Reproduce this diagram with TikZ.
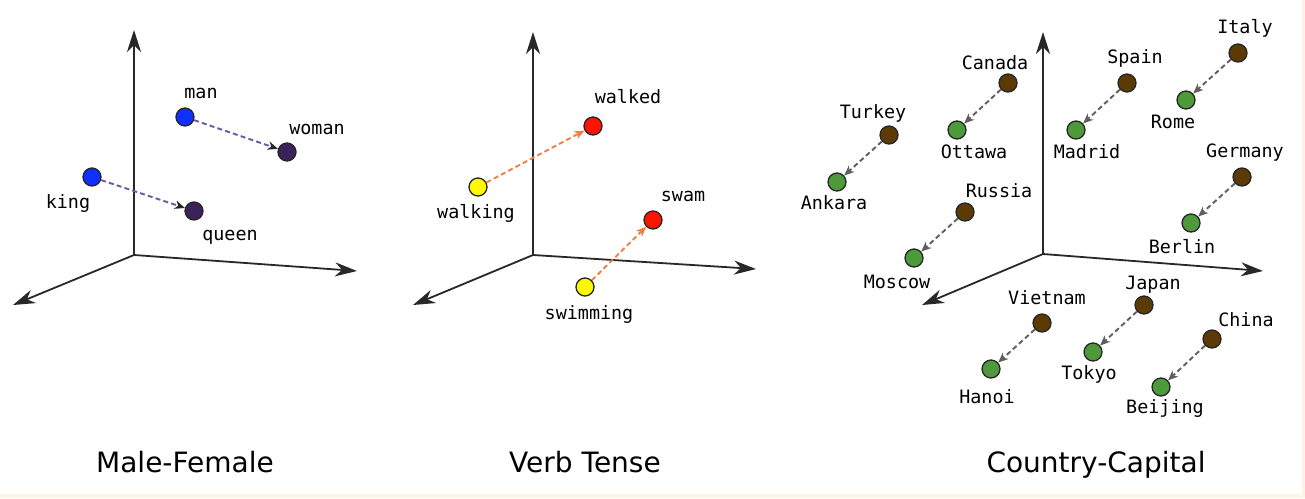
\documentclass[tikz,border=0pt]{standalone}
\usepackage{fontspec}
\setmainfont{DejaVu Sans}
\newfontfamily\labfont{DejaVu Sans Mono}
\usetikzlibrary{arrows.meta}
\definecolor{beige}{RGB}{252,243,226}
\definecolor{cblue}{RGB}{16,48,255}
\definecolor{cpurple}{RGB}{59,34,88}
\definecolor{cpline}{RGB}{110,88,160}
\definecolor{cyellow}{RGB}{255,250,0}
\definecolor{cred}{RGB}{255,20,0}
\definecolor{corange}{RGB}{240,128,64}
\definecolor{cbrown}{RGB}{92,58,4}
\definecolor{cgreen}{RGB}{78,154,58}
\definecolor{cgray}{RGB}{95,95,95}
\definecolor{caxis}{RGB}{40,40,40}
\tikzset{
  axis/.style={draw=caxis, line width=0.9pt, -{Stealth[length=11pt,width=7pt,inset=3.5pt]}},
  dot/.style={circle, draw=black!85, line width=0.65pt, minimum size=9pt, inner sep=0pt},
  lab/.style={font=\labfont\fontsize{9.2}{10}\selectfont, inner sep=0pt, text height=6.5pt, text depth=0pt, anchor=center},
  title/.style={font=\fontsize{14}{16}\selectfont, inner sep=0pt, anchor=base},
  vecarrow/.style={dashed, dash pattern=on 2.5pt off 1.6pt, line width=0.95pt},
  mf/.style={vecarrow, draw=cpline, -{Stealth[length=5pt,width=4.2pt,inset=1.5pt,color=black!85]}},
  vt/.style={vecarrow, draw=corange, -{Stealth[length=5pt,width=4.2pt,inset=1.5pt]}},
  cc/.style={vecarrow, draw=cgray, -{Stealth[length=5pt,width=4.2pt,inset=1.5pt]}},
}
\begin{document}
\begin{tikzpicture}[x=0.5pt,y=-0.5pt]
\useasboundingbox (0,0) rectangle (1305,498);
\fill[beige] (0,0) rectangle (1305,498);
\fill[white] (0,0) rectangle (1302,494);

% ---------- Panel 1: Male-Female ----------
\coordinate (o1) at (134,255);
\coordinate (u1) at (134,30);
\coordinate (r1) at (357,271);
\coordinate (l1) at (13,305);
\draw[axis] (o1) -- (u1);
\draw[axis] (o1) -- (r1);
\draw[axis] (o1) -- (l1);
\node[dot, fill=cblue] (man) at (185,117) {};
\node[dot, fill=cpurple] (woman) at (287,152) {};
\node[dot, fill=cblue] (king) at (92,177) {};
\node[dot, fill=cpurple] (queen) at (194,211) {};
\draw[mf] (man) -- (woman);
\draw[mf] (king) -- (queen);
\node[lab] (lman) at (201,92) {man};
\node[lab] (lwoman) at (317,128) {woman};
\node[lab] (lking) at (68,202) {king};
\node[lab] (lqueen) at (230,234) {queen};
\node[title] (t1) at (185,472) {Male-Female};

% ---------- Panel 2: Verb Tense ----------
\coordinate (o2) at (533,255);
\coordinate (u2) at (533,32);
\coordinate (r2) at (756,269);
\coordinate (l2) at (413,305);
\draw[axis] (o2) -- (u2);
\draw[axis] (o2) -- (r2);
\draw[axis] (o2) -- (l2);
\node[dot, fill=cred] (walked) at (593,126) {};
\node[dot, fill=cyellow] (walking) at (478,187) {};
\node[dot, fill=cred] (swam) at (653,220) {};
\node[dot, fill=cyellow] (swimming) at (585,287) {};
\draw[vt] (walking) -- (walked);
\draw[vt] (swimming) -- (swam);
\node[lab] (lwalked) at (628,97) {walked};
\node[lab] (lwalking) at (476,212) {walking};
\node[lab] (lswam) at (683,195) {swam};
\node[lab] (lswimming) at (589,313) {swimming};
\node[title] (t2) at (585,472) {Verb Tense};

% ---------- Panel 3: Country-Capital ----------
\coordinate (o3) at (1043,254);
\coordinate (u3) at (1043,32);
\coordinate (r3) at (1263,271);
\coordinate (l3) at (922,305);
\draw[axis] (o3) -- (u3);
\draw[axis] (o3) -- (r3);
\draw[axis] (o3) -- (l3);
% countries
\node[dot, fill=cbrown] (italy) at (1238,53) {};
\node[dot, fill=cbrown] (spain) at (1127,83) {};
\node[dot, fill=cbrown] (canada) at (1008,83) {};
\node[dot, fill=cbrown] (turkey) at (889,135) {};
\node[dot, fill=cbrown] (germany) at (1242,177) {};
\node[dot, fill=cbrown] (russia) at (965,212) {};
\node[dot, fill=cbrown] (japan) at (1144,305) {};
\node[dot, fill=cbrown] (vietnam) at (1042,323) {};
\node[dot, fill=cbrown] (china) at (1212,339) {};
% capitals
\node[dot, fill=cgreen] (rome) at (1186,100) {};
\node[dot, fill=cgreen] (madrid) at (1076,130) {};
\node[dot, fill=cgreen] (ottawa) at (957,130) {};
\node[dot, fill=cgreen] (ankara) at (837,182) {};
\node[dot, fill=cgreen] (berlin) at (1191,223) {};
\node[dot, fill=cgreen] (moscow) at (914,258) {};
\node[dot, fill=cgreen] (tokyo) at (1093,352) {};
\node[dot, fill=cgreen] (hanoi) at (991,369) {};
\node[dot, fill=cgreen] (beijing) at (1161,387) {};
\draw[cc] (italy) -- (rome);
\draw[cc] (spain) -- (madrid);
\draw[cc] (canada) -- (ottawa);
\draw[cc] (turkey) -- (ankara);
\draw[cc] (germany) -- (berlin);
\draw[cc] (russia) -- (moscow);
\draw[cc] (japan) -- (tokyo);
\draw[cc] (vietnam) -- (hanoi);
\draw[cc] (china) -- (beijing);
\node[lab] (litaly) at (1245,27) {Italy};
\node[lab] (lspain) at (1135,57) {Spain};
\node[lab] (lcanada) at (995,63) {Canada};
\node[lab] (lturkey) at (873,112) {Turkey};
\node[lab] (lgermany) at (1245,151) {Germany};
\node[lab] (lrussia) at (999,191) {Russia};
\node[lab] (ljapan) at (1153,283) {Japan};
\node[lab] (lvietnam) at (1047,298) {Vietnam};
\node[lab] (lchina) at (1246,320) {China};
\node[lab] (lrome) at (1173,122) {Rome};
\node[lab] (lmadrid) at (1087,152) {Madrid};
\node[lab] (lottawa) at (974,152) {Ottawa};
\node[lab] (lankara) at (834,203) {Ankara};
\node[lab] (lberlin) at (1182,247) {Berlin};
\node[lab] (lmoscow) at (897,282) {Moscow};
\node[lab] (ltokyo) at (1089,373) {Tokyo};
\node[lab] (lhanoi) at (987,397) {Hanoi};
\node[lab] (lbeijing) at (1165,407) {Beijing};
\node[title] (t3) at (1096,472) {Country-Capital};
\end{tikzpicture}
\end{document}
